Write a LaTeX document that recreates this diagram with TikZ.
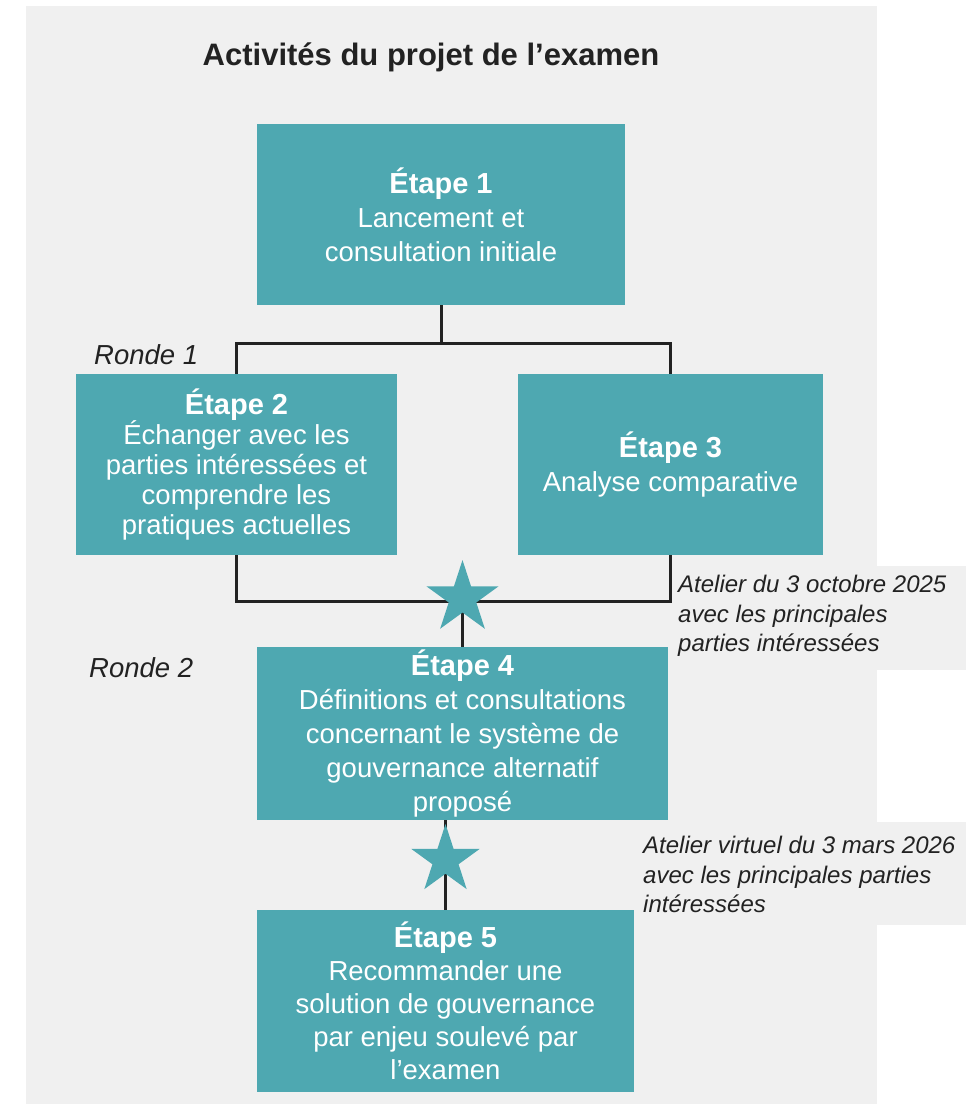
\documentclass[tikz,border=0pt]{standalone}
\usepackage{fontspec}
\setmainfont{Liberation Sans}
\usetikzlibrary{shapes.geometric}
\definecolor{tealbox}{RGB}{78,168,177}
\definecolor{bggrey}{RGB}{240,240,240}
\definecolor{ink}{RGB}{34,34,34}
\begin{document}
\begin{tikzpicture}[x=1pt,y=-1pt,
  stage/.style={fill=tealbox, text=white, align=center, inner sep=0pt,
    font=\fontsize{27.5}{34}\selectfont},
  conn/.style={draw=ink, line width=3pt},
  starmark/.style={star, star points=5, star point ratio=2.618, fill=tealbox,
    minimum size=76pt, inner sep=0pt},
  rondelabel/.style={font=\fontsize{27.5}{32}\selectfont\itshape, text=ink, inner sep=0pt, anchor=west},
  note/.style={font=\fontsize{24}{29.5}\selectfont\itshape, text=ink, align=left, inner sep=0pt, anchor=west}]
\useasboundingbox (0,0) rectangle (966,1104);
\fill[white] (0,0) rectangle (966,1104);
\fill[bggrey] (26,6) rectangle (877,1104);
\fill[bggrey] (668,566) rectangle (966,670);
\fill[bggrey] (612,822) rectangle (966,925);

\node[font=\bfseries\fontsize{31}{36}\selectfont, text=ink] (title) at (431,57) {Activités du projet de l’examen};

\node[stage, minimum width=368pt, minimum height=181pt] (b1) at (441,214.5)
  {{\bfseries\fontsize{29}{34}\selectfont Étape 1}\\Lancement et\\consultation initiale};
\node[stage, font=\fontsize{27.5}{30}\selectfont, minimum width=321pt, minimum height=181pt] (b2) at (236.5,464.5)
  {{\bfseries\fontsize{29}{30}\selectfont Étape 2}\\Échanger avec les\\parties intéressées et\\comprendre les\\pratiques actuelles};
\node[stage, minimum width=305pt, minimum height=181pt] (b3) at (670.5,464.5)
  {{\bfseries\fontsize{29}{34}\selectfont Étape 3}\\Analyse comparative};
\node[stage, minimum width=411pt, minimum height=173pt] (b4) at (462.5,733.5)
  {{\bfseries\fontsize{29}{34}\selectfont Étape 4}\\Définitions et consultations\\concernant le système de\\gouvernance alternatif\\proposé};
\node[stage, font=\fontsize{27.5}{33}\selectfont, minimum width=377pt, minimum height=182pt] (b5) at (445.5,1001)
  {{\bfseries\fontsize{29}{33}\selectfont Étape 5}\\Recommander une\\solution de gouvernance\\par enjeu soulevé par\\l’examen};

\coordinate (j1) at (441,343);
\coordinate (j2) at (462.5,601);
\draw[conn] (b1.south) -- (j1);
\draw[conn] (b2.north) -- (b2.north |- j1) -- (b3.north |- j1) -- (b3.north);
\draw[conn] (b2.south) -- (b2.south |- j2) -- (b3.south |- j2) -- (b3.south);
\draw[conn] (j2) -- (b4.north);
\draw[conn] (b5.north) -- (b5.north |- b4.south);

\node[starmark] (s1) at (462.5,598) {};
\node[starmark, minimum size=72pt] (s2) at (445.5,860) {};

\node[rondelabel] (r1) at (94,355) {Ronde 1};
\node[rondelabel] (r2) at (89,668) {Ronde 2};

\node[note] (n1) at (678,616) {Atelier du 3 octobre 2025\\avec les principales\\parties intéressées};
\node[note] (n2) at (643,874.5) {Atelier virtuel du 3 mars 2026\\avec les principales parties\\intéressées};
\end{tikzpicture}
\end{document}
